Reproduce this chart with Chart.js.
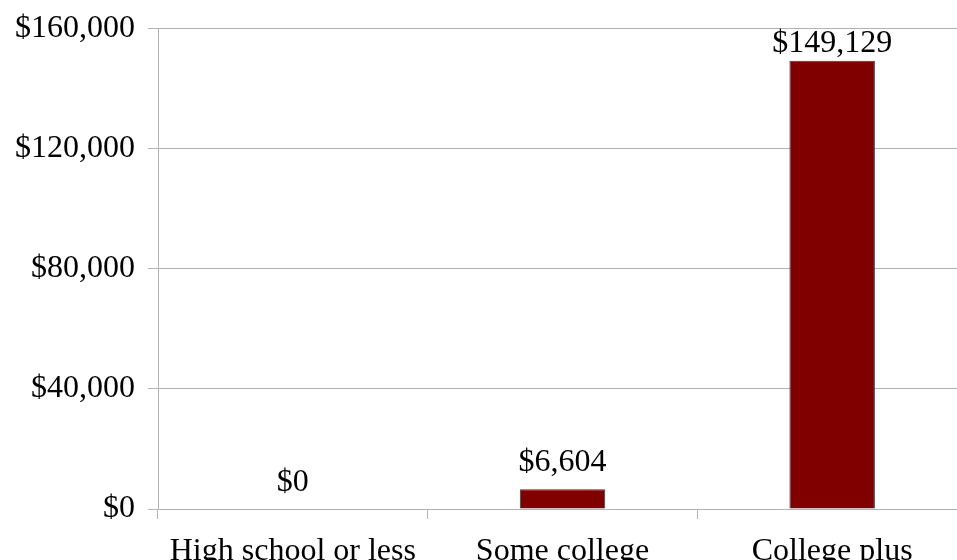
<!DOCTYPE html>
<html>
<head>
<meta charset="utf-8">
<title>Earnings by education</title>
<script src="https://cdn.jsdelivr.net/npm/chart.js@4"></script>
<style>
  html, body { margin: 0; padding: 0; background: #fff; overflow: hidden; }
  #wrap { width: 967px; height: 560px; }
</style>
</head>
<body>
<div id="wrap"><canvas id="chart" width="967" height="560"></canvas></div>
<script>
// Datos del gráfico
const categorias = ['High school or less', 'Some college', 'College plus'];
const valores = [0, 6604, 149129];
const ejeY = { min: 0, max: 160000, paso: 40000 };

const FUENTE = "'Liberation Serif', 'Times New Roman', serif";
const GRIS = '#b3b3b3';

function formatoDolar(v) {
    return '$' + Number(v).toLocaleString('en-US');
}

// Etiquetas de valor sobre cada barra
const etiquetasBarras = {
    id: 'etiquetasBarras',
    afterDatasetsDraw(chart) {
        const ctx = chart.ctx;
        const meta = chart.getDatasetMeta(0);
        const area = chart.chartArea;
        ctx.save();
        ctx.font = '32px ' + FUENTE;
        ctx.fillStyle = '#000';
        ctx.textAlign = 'center';
        ctx.textBaseline = 'alphabetic';
        meta.data.forEach((bar, i) => {
            // mantener la etiqueta dentro del área del gráfico
            const y = Math.max(bar.y - 18, area.top + 24);
            ctx.fillText(formatoDolar(chart.data.datasets[0].data[i]), bar.x, y);
        });
        ctx.restore();
    }
};

const ctx = document.getElementById('chart').getContext('2d');
new Chart(ctx, {
    type: 'bar',
    data: {
        labels: categorias,
        datasets: [{
            data: valores,
            backgroundColor: '#800000',
            borderColor: '#3a3a3a',
            borderWidth: 1,
            barPercentage: 0.317,
            categoryPercentage: 1
        }]
    },
    options: {
        responsive: false,
        animation: false,
        layout: { padding: { top: 0, right: 0, left: 0, bottom: 0 } },
        plugins: {
            legend: { display: false },
            tooltip: { enabled: false }
        },
        scales: {
            x: {
                offset: true,
                grid: {
                    offset: true,
                    drawOnChartArea: false,
                    color: GRIS,
                    tickLength: 10
                },
                border: { color: GRIS },
                ticks: {
                    color: '#000',
                    padding: 13,
                    maxRotation: 0,
                    autoSkip: false,
                    font: { family: FUENTE, size: 32 }
                },
                afterFit(scale) { scale.height = 51; }
            },
            y: {
                min: ejeY.min,
                max: ejeY.max,
                grid: { color: GRIS, tickLength: 10 },
                border: { color: GRIS },
                ticks: {
                    stepSize: ejeY.paso,
                    color: '#000',
                    padding: 13,
                    font: { family: FUENTE, size: 32, lineHeight: 0.95 },
                    callback: formatoDolar
                },
                afterFit(scale) { scale.width = 158; }
            }
        }
    },
    plugins: [etiquetasBarras]
});
</script>
</body>
</html>
